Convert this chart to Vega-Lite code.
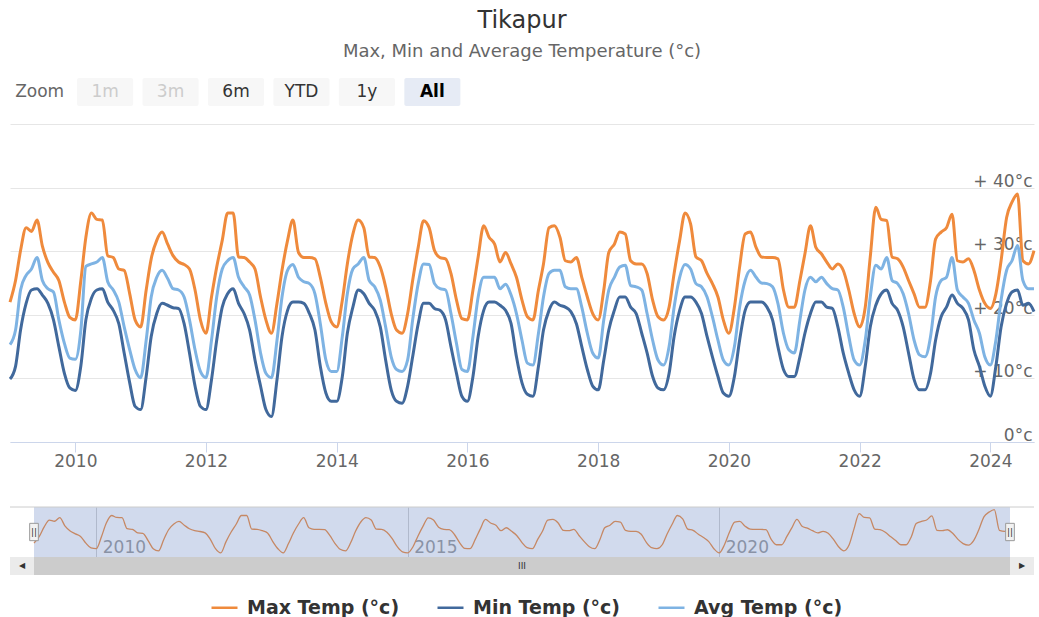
{
  "$schema": "https://vega.github.io/schema/vega-lite/v6.json",
  "background": "white",
  "padding": {"left": 4, "top": 9, "right": 5, "bottom": 0},
  "title": {
    "text": "Tikapur",
    "subtitle": "Max, Min and Average Temperature (°c)",
    "anchor": "middle",
    "font": "DejaVu Sans",
    "fontSize": 24,
    "fontWeight": "normal",
    "color": "#333333",
    "subtitleFont": "DejaVu Sans",
    "subtitleFontSize": 18,
    "subtitleColor": "#666666",
    "subtitlePadding": 10,
    "offset": 17
  },
  "config": {
    "view": {"stroke": null},
    "font": "DejaVu Sans",
    "axis": {"labelFont": "DejaVu Sans"},
    "legend": {"labelFont": "DejaVu Sans"}
  },
  "resolve": {"legend": {"color": "shared"}},
  "spacing": 18,
  "datasets": {
    "buttons": [
      {"label": "Zoom"}, {"label": "1m"}, {"label": "3m"}, {"label": "6m"},
      {"label": "YTD"}, {"label": "1y"}, {"label": "All"}
    ],
    "sel": [
      {"from": "2009-01-01", "to": "2024-09-01", "mid": "2016-11-01"}
    ],
    "temps": [
      {"d":"2009-01-01","mx":22.0,"mn":9.9,"av":15.3},
      {"d":"2009-02-01","mx":25.4,"mn":11.9,"av":17.6},
      {"d":"2009-03-01","mx":30.1,"mn":17.6,"av":23.9},
      {"d":"2009-04-01","mx":33.7,"mn":21.8,"av":26.2},
      {"d":"2009-05-01","mx":33.1,"mn":23.9,"av":27.2},
      {"d":"2009-06-01","mx":34.9,"mn":24.1,"av":29.0},
      {"d":"2009-07-01","mx":30.8,"mn":23.1,"av":25.4},
      {"d":"2009-08-01","mx":28.2,"mn":21.8,"av":24.1},
      {"d":"2009-09-01","mx":26.7,"mn":19.2,"av":23.6},
      {"d":"2009-10-01","mx":25.4,"mn":15.0,"av":19.2},
      {"d":"2009-11-01","mx":22.0,"mn":10.8,"av":15.5},
      {"d":"2009-12-01","mx":19.6,"mn":8.5,"av":13.2},
      {"d":"2010-01-01","mx":19.2,"mn":8.1,"av":13.0},
      {"d":"2010-02-01","mx":25.4,"mn":12.0,"av":17.6},
      {"d":"2010-03-01","mx":32.2,"mn":19.2,"av":27.6},
      {"d":"2010-04-01","mx":36.0,"mn":22.6,"av":28.0},
      {"d":"2010-05-01","mx":35.0,"mn":23.9,"av":28.3},
      {"d":"2010-06-01","mx":34.9,"mn":24.1,"av":29.0},
      {"d":"2010-07-01","mx":29.3,"mn":22.0,"av":25.2},
      {"d":"2010-08-01","mx":29.0,"mn":20.7,"av":23.9},
      {"d":"2010-09-01","mx":27.2,"mn":18.6,"av":22.0},
      {"d":"2010-10-01","mx":27.0,"mn":14.0,"av":18.1},
      {"d":"2010-11-01","mx":23.3,"mn":9.3,"av":14.5},
      {"d":"2010-12-01","mx":19.2,"mn":5.6,"av":11.4},
      {"d":"2011-01-01","mx":18.1,"mn":5.1,"av":10.1},
      {"d":"2011-02-01","mx":23.9,"mn":10.3,"av":16.0},
      {"d":"2011-03-01","mx":28.8,"mn":16.6,"av":22.8},
      {"d":"2011-04-01","mx":31.7,"mn":20.2,"av":25.9},
      {"d":"2011-05-01","mx":33.0,"mn":21.8,"av":27.0},
      {"d":"2011-06-01","mx":31.1,"mn":21.5,"av":25.7},
      {"d":"2011-07-01","mx":29.3,"mn":21.1,"av":24.1},
      {"d":"2011-08-01","mx":28.3,"mn":21.0,"av":23.9},
      {"d":"2011-09-01","mx":27.9,"mn":18.6,"av":22.8},
      {"d":"2011-10-01","mx":27.2,"mn":14.0,"av":19.2},
      {"d":"2011-11-01","mx":23.9,"mn":8.8,"av":14.5},
      {"d":"2011-12-01","mx":19.2,"mn":5.6,"av":11.1},
      {"d":"2012-01-01","mx":17.1,"mn":5.1,"av":10.1},
      {"d":"2012-02-01","mx":22.8,"mn":9.8,"av":16.0},
      {"d":"2012-03-01","mx":27.5,"mn":16.0,"av":22.8},
      {"d":"2012-04-01","mx":31.7,"mn":21.2,"av":27.2},
      {"d":"2012-05-01","mx":36.0,"mn":23.3,"av":28.5},
      {"d":"2012-06-01","mx":36.0,"mn":24.1,"av":29.0},
      {"d":"2012-07-01","mx":29.1,"mn":21.8,"av":25.9},
      {"d":"2012-08-01","mx":29.0,"mn":20.2,"av":24.4},
      {"d":"2012-09-01","mx":28.3,"mn":17.6,"av":23.1},
      {"d":"2012-10-01","mx":27.2,"mn":12.9,"av":19.2},
      {"d":"2012-11-01","mx":22.8,"mn":8.8,"av":14.0},
      {"d":"2012-12-01","mx":19.2,"mn":5.1,"av":10.8},
      {"d":"2013-01-01","mx":17.1,"mn":4.0,"av":10.1},
      {"d":"2013-02-01","mx":21.8,"mn":9.8,"av":16.0},
      {"d":"2013-03-01","mx":27.0,"mn":16.6,"av":22.8},
      {"d":"2013-04-01","mx":31.7,"mn":20.7,"av":27.0},
      {"d":"2013-05-01","mx":34.9,"mn":22.0,"av":27.9},
      {"d":"2013-06-01","mx":29.8,"mn":22.0,"av":25.9},
      {"d":"2013-07-01","mx":29.0,"mn":21.8,"av":25.2},
      {"d":"2013-08-01","mx":29.0,"mn":20.2,"av":24.9},
      {"d":"2013-09-01","mx":28.8,"mn":17.6,"av":23.3},
      {"d":"2013-10-01","mx":25.9,"mn":11.9,"av":18.6},
      {"d":"2013-11-01","mx":21.8,"mn":7.7,"av":12.9},
      {"d":"2013-12-01","mx":18.9,"mn":6.4,"av":11.1},
      {"d":"2014-01-01","mx":18.1,"mn":6.4,"av":11.1},
      {"d":"2014-02-01","mx":22.3,"mn":10.3,"av":16.6},
      {"d":"2014-03-01","mx":28.0,"mn":17.1,"av":23.3},
      {"d":"2014-04-01","mx":32.7,"mn":21.2,"av":27.2},
      {"d":"2014-05-01","mx":34.9,"mn":23.9,"av":28.0},
      {"d":"2014-06-01","mx":33.7,"mn":23.3,"av":29.0},
      {"d":"2014-07-01","mx":29.1,"mn":21.8,"av":25.4},
      {"d":"2014-08-01","mx":29.0,"mn":20.7,"av":24.4},
      {"d":"2014-09-01","mx":27.5,"mn":18.1,"av":22.3},
      {"d":"2014-10-01","mx":24.4,"mn":12.9,"av":18.1},
      {"d":"2014-11-01","mx":20.2,"mn":8.2,"av":13.4},
      {"d":"2014-12-01","mx":17.6,"mn":6.4,"av":11.4},
      {"d":"2015-01-01","mx":17.1,"mn":6.1,"av":11.1},
      {"d":"2015-02-01","mx":20.2,"mn":8.8,"av":12.9},
      {"d":"2015-03-01","mx":25.4,"mn":13.4,"av":19.2},
      {"d":"2015-04-01","mx":30.6,"mn":18.6,"av":24.9},
      {"d":"2015-05-01","mx":34.8,"mn":21.8,"av":28.0},
      {"d":"2015-06-01","mx":33.7,"mn":21.8,"av":27.9},
      {"d":"2015-07-01","mx":30.1,"mn":21.0,"av":24.9},
      {"d":"2015-08-01","mx":29.0,"mn":20.7,"av":24.1},
      {"d":"2015-09-01","mx":28.8,"mn":19.2,"av":23.9},
      {"d":"2015-10-01","mx":26.5,"mn":15.0,"av":20.2},
      {"d":"2015-11-01","mx":22.3,"mn":10.8,"av":15.5},
      {"d":"2015-12-01","mx":19.4,"mn":7.2,"av":11.4},
      {"d":"2016-01-01","mx":19.2,"mn":6.4,"av":11.1},
      {"d":"2016-02-01","mx":23.9,"mn":10.3,"av":16.6},
      {"d":"2016-03-01","mx":29.1,"mn":16.6,"av":22.8},
      {"d":"2016-04-01","mx":34.0,"mn":20.7,"av":25.9},
      {"d":"2016-05-01","mx":32.2,"mn":22.0,"av":25.9},
      {"d":"2016-06-01","mx":31.1,"mn":22.0,"av":25.9},
      {"d":"2016-07-01","mx":28.3,"mn":21.5,"av":24.1},
      {"d":"2016-08-01","mx":29.8,"mn":20.7,"av":24.8},
      {"d":"2016-09-01","mx":28.0,"mn":18.6,"av":23.1},
      {"d":"2016-10-01","mx":25.9,"mn":13.4,"av":20.2},
      {"d":"2016-11-01","mx":22.3,"mn":9.3,"av":16.0},
      {"d":"2016-12-01","mx":19.7,"mn":7.5,"av":12.4},
      {"d":"2017-01-01","mx":19.2,"mn":7.2,"av":12.1},
      {"d":"2017-02-01","mx":23.9,"mn":11.9,"av":17.1},
      {"d":"2017-03-01","mx":28.0,"mn":17.6,"av":22.8},
      {"d":"2017-04-01","mx":33.7,"mn":20.7,"av":26.5},
      {"d":"2017-05-01","mx":34.0,"mn":22.0,"av":27.0},
      {"d":"2017-06-01","mx":32.2,"mn":21.5,"av":27.0},
      {"d":"2017-07-01","mx":28.5,"mn":21.2,"av":24.4},
      {"d":"2017-08-01","mx":28.3,"mn":20.5,"av":24.1},
      {"d":"2017-09-01","mx":29.0,"mn":18.6,"av":24.1},
      {"d":"2017-10-01","mx":25.9,"mn":15.0,"av":21.2},
      {"d":"2017-11-01","mx":22.8,"mn":11.4,"av":17.1},
      {"d":"2017-12-01","mx":20.2,"mn":8.8,"av":14.0},
      {"d":"2018-01-01","mx":19.2,"mn":8.2,"av":13.2},
      {"d":"2018-02-01","mx":23.9,"mn":12.9,"av":19.2},
      {"d":"2018-03-01","mx":29.8,"mn":17.6,"av":23.9},
      {"d":"2018-04-01","mx":31.1,"mn":20.7,"av":25.9},
      {"d":"2018-05-01","mx":33.0,"mn":22.8,"av":27.5},
      {"d":"2018-06-01","mx":32.7,"mn":22.8,"av":27.8},
      {"d":"2018-07-01","mx":28.5,"mn":21.2,"av":24.6},
      {"d":"2018-08-01","mx":28.0,"mn":20.2,"av":24.4},
      {"d":"2018-09-01","mx":28.0,"mn":17.1,"av":23.9},
      {"d":"2018-10-01","mx":26.5,"mn":14.0,"av":20.2},
      {"d":"2018-11-01","mx":22.3,"mn":10.3,"av":16.0},
      {"d":"2018-12-01","mx":19.7,"mn":8.5,"av":12.9},
      {"d":"2019-01-01","mx":19.2,"mn":8.2,"av":12.1},
      {"d":"2019-02-01","mx":21.2,"mn":10.8,"av":15.0},
      {"d":"2019-03-01","mx":26.5,"mn":16.6,"av":21.2},
      {"d":"2019-04-01","mx":31.7,"mn":20.7,"av":25.9},
      {"d":"2019-05-01","mx":36.0,"mn":22.8,"av":27.9},
      {"d":"2019-06-01","mx":34.3,"mn":22.8,"av":27.2},
      {"d":"2019-07-01","mx":29.1,"mn":22.0,"av":24.9},
      {"d":"2019-08-01","mx":28.5,"mn":20.2,"av":24.4},
      {"d":"2019-09-01","mx":26.5,"mn":16.6,"av":22.8},
      {"d":"2019-10-01","mx":24.9,"mn":13.4,"av":19.7},
      {"d":"2019-11-01","mx":22.8,"mn":10.3,"av":16.0},
      {"d":"2019-12-01","mx":19.2,"mn":7.7,"av":12.9},
      {"d":"2020-01-01","mx":17.1,"mn":7.2,"av":12.1},
      {"d":"2020-02-01","mx":21.2,"mn":10.3,"av":15.0},
      {"d":"2020-03-01","mx":27.5,"mn":16.0,"av":21.2},
      {"d":"2020-04-01","mx":32.7,"mn":20.7,"av":25.4},
      {"d":"2020-05-01","mx":33.0,"mn":22.0,"av":27.0},
      {"d":"2020-06-01","mx":30.6,"mn":22.0,"av":25.9},
      {"d":"2020-07-01","mx":29.1,"mn":22.0,"av":25.0},
      {"d":"2020-08-01","mx":29.0,"mn":21.2,"av":24.9},
      {"d":"2020-09-01","mx":29.0,"mn":19.2,"av":24.4},
      {"d":"2020-10-01","mx":28.8,"mn":15.0,"av":21.8},
      {"d":"2020-11-01","mx":23.9,"mn":11.4,"av":17.1},
      {"d":"2020-12-01","mx":21.2,"mn":10.3,"av":14.5},
      {"d":"2021-01-01","mx":21.2,"mn":10.3,"av":14.0},
      {"d":"2021-02-01","mx":25.4,"mn":13.4,"av":19.2},
      {"d":"2021-03-01","mx":29.6,"mn":17.1,"av":23.9},
      {"d":"2021-04-01","mx":34.0,"mn":20.2,"av":25.9},
      {"d":"2021-05-01","mx":30.6,"mn":22.0,"av":25.2},
      {"d":"2021-06-01","mx":29.6,"mn":22.0,"av":25.9},
      {"d":"2021-07-01","mx":28.3,"mn":21.2,"av":24.9},
      {"d":"2021-08-01","mx":27.2,"mn":21.0,"av":24.1},
      {"d":"2021-09-01","mx":28.0,"mn":18.1,"av":23.9},
      {"d":"2021-10-01","mx":27.0,"mn":14.0,"av":21.2},
      {"d":"2021-11-01","mx":23.9,"mn":10.8,"av":16.6},
      {"d":"2021-12-01","mx":20.2,"mn":8.2,"av":12.9},
      {"d":"2022-01-01","mx":18.1,"mn":7.2,"av":12.1},
      {"d":"2022-02-01","mx":21.2,"mn":11.9,"av":16.0},
      {"d":"2022-03-01","mx":29.1,"mn":18.1,"av":22.8},
      {"d":"2022-04-01","mx":36.9,"mn":21.5,"av":27.8},
      {"d":"2022-05-01","mx":35.0,"mn":23.3,"av":27.2},
      {"d":"2022-06-01","mx":34.8,"mn":23.9,"av":29.0},
      {"d":"2022-07-01","mx":29.1,"mn":21.8,"av":25.4},
      {"d":"2022-08-01","mx":28.8,"mn":20.7,"av":24.9},
      {"d":"2022-09-01","mx":27.5,"mn":18.1,"av":23.3},
      {"d":"2022-10-01","mx":25.4,"mn":14.0,"av":20.2},
      {"d":"2022-11-01","mx":23.3,"mn":9.8,"av":16.0},
      {"d":"2022-12-01","mx":21.2,"mn":8.2,"av":13.7},
      {"d":"2023-01-01","mx":21.2,"mn":8.2,"av":13.4},
      {"d":"2023-02-01","mx":25.4,"mn":10.8,"av":16.6},
      {"d":"2023-03-01","mx":31.9,"mn":16.0,"av":22.8},
      {"d":"2023-04-01","mx":33.0,"mn":19.7,"av":25.4},
      {"d":"2023-05-01","mx":33.7,"mn":21.2,"av":25.9},
      {"d":"2023-06-01","mx":35.8,"mn":23.1,"av":29.0},
      {"d":"2023-07-01","mx":28.5,"mn":21.8,"av":23.9},
      {"d":"2023-08-01","mx":28.3,"mn":21.0,"av":22.8},
      {"d":"2023-09-01","mx":28.8,"mn":19.2,"av":21.8},
      {"d":"2023-10-01","mx":27.0,"mn":14.5,"av":19.2},
      {"d":"2023-11-01","mx":23.9,"mn":11.9,"av":17.1},
      {"d":"2023-12-01","mx":21.8,"mn":8.8,"av":13.4},
      {"d":"2024-01-01","mx":21.0,"mn":7.2,"av":12.1},
      {"d":"2024-02-01","mx":23.3,"mn":11.9,"av":16.0},
      {"d":"2024-03-01","mx":28.5,"mn":18.1,"av":22.3},
      {"d":"2024-04-01","mx":35.3,"mn":21.8,"av":27.0},
      {"d":"2024-05-01","mx":37.7,"mn":23.6,"av":28.5},
      {"d":"2024-06-01","mx":39.0,"mn":23.9,"av":30.9},
      {"d":"2024-07-01","mx":28.5,"mn":21.5,"av":25.4},
      {"d":"2024-08-01","mx":28.0,"mn":21.8,"av":24.1},
      {"d":"2024-09-01","mx":30.1,"mn":20.5,"av":24.1}
    ]
  },
  "vconcat": [
    {
      "width": 452,
      "height": 28,
      "data": {"name": "buttons"},
      "encoding": {
        "x": {"field": "label", "type": "nominal", "sort": null, "axis": null,
              "scale": {"paddingInner": 0.144, "paddingOuter": 0.025}}
      },
      "layer": [
        {
          "mark": {"type": "rect", "cornerRadius": 2},
          "encoding": {
            "fill": {"condition": {"test": "datum.label === 'All'", "value": "#e6ebf5"}, "value": "#f7f7f7"},
            "opacity": {"condition": {"test": "datum.label === 'Zoom'", "value": 0}, "value": 1}
          }
        },
        {
          "transform": [{"filter": "datum.label !== 'All'"}],
          "mark": {"type": "text", "fontSize": 17, "font": "DejaVu Sans"},
          "encoding": {
            "text": {"field": "label"},
            "color": {"condition": [
              {"test": "datum.label === 'Zoom'", "value": "#666666"},
              {"test": "datum.label === '1m' || datum.label === '3m'", "value": "#cccccc"}
            ], "value": "#333333"}
          }
        },
        {
          "transform": [{"filter": "datum.label === 'All'"}],
          "mark": {"type": "text", "fontSize": 17, "fontWeight": "bold", "font": "DejaVu Sans", "color": "#000000"},
          "encoding": {"text": {"field": "label"}}
        }
      ]
    },
    {
      "spacing": 37,
      "resolve": {"legend": {"color": "shared"}},
      "vconcat": [
        {
          "width": 1024,
          "height": 318,
          "data": {"name": "temps"},
          "transform": [{"fold": ["mx", "mn", "av"], "as": ["series", "temp"]}],
          "mark": {"type": "line", "interpolate": "monotone", "strokeWidth": 3},
          "encoding": {
            "x": {"field": "d", "type": "temporal", "scale": {"nice": false},
                  "axis": {"title": null, "format": "%Y", "tickCount": {"interval": "year", "step": 2},
                           "grid": false, "tickSize": 10, "tickColor": "#ccd6eb", "domainColor": "#ccd6eb",
                           "labelFontSize": 17, "labelColor": "#666666", "labelPadding": 1}},
            "y": {"field": "temp", "type": "quantitative", "scale": {"domain": [0, 50], "nice": false},
                  "axis": {"title": null, "orient": "right", "values": [0, 10, 20, 30, 40, 50],
                           "grid": true, "gridColor": "#e6e6e6", "domain": false, "ticks": false,
                           "labelAlign": "right", "labelPadding": -2, "labelBaseline": "alphabetic", "labelOffset": -1.5,
                           "labelFontSize": 17, "labelColor": "#666666",
                           "labelExpr": "datum.value >= 50 ? '' : (datum.value > 0 ? '+ ' + datum.value + '°c' : datum.value + '°c')"}},
            "color": {"field": "series", "type": "nominal",
                      "scale": {"domain": ["mx", "mn", "av"], "range": ["#ef8a3c", "#41699c", "#7eb3e3"]},
                      "legend": {"title": null, "orient": "none", "legendX": 200, "legendY": 515, "direction": "horizontal",
                                 "padding": 0,
                                 "symbolType": "stroke", "symbolSize": 676, "symbolStrokeWidth": 2.5,
                                 "labelFontSize": 19, "labelFontWeight": "bold", "labelColor": "#333333",
                                 "labelOffset": 8, "columnPadding": 32,
                                 "labelExpr": "datum.value === 'mx' ? 'Max Temp (°c)' : (datum.value === 'mn' ? 'Min Temp (°c)' : 'Avg Temp (°c)')"}}
          }
        },
        {
          "spacing": 0,
          "vconcat": [
            {
              "width": 1024,
              "height": 50,
              "layer": [
                {
                  "data": {"name": "temps"},
                  "mark": {"type": "line", "interpolate": "monotone", "strokeWidth": 1.3, "color": "#ef8a3c"},
                  "encoding": {
                    "x": {"field": "d", "type": "temporal", "scale": {"nice": false, "range": [24, 1000]},
                          "axis": {"title": null, "format": "%Y", "tickCount": {"interval": "year", "step": 5},
                                   "grid": true, "gridColor": "#d0d0d0", "domain": false, "ticks": false,
                                   "labelAlign": "left", "labelBaseline": "middle", "labelPadding": -10, "labelOffset": 6,
                                   "labelFontSize": 17, "labelColor": "#999999", "labelFlush": false}},
                    "y": {"field": "mx", "type": "quantitative", "scale": {"domain": [15, 40.3], "nice": false, "zero": false}, "axis": null}
                  }
                },
                {
                  "data": {"name": "sel"},
                  "mark": {"type": "rect", "color": "#6685c2", "opacity": 0.3},
                  "encoding": {
                    "x": {"field": "from", "type": "temporal"},
                    "x2": {"field": "to"}
                  }
                },
                {
                  "data": {"name": "sel"},
                  "mark": {"type": "rule", "color": "#cccccc", "strokeWidth": 1},
                  "encoding": {"y": {"datum": 40.3}}
                },
                {
                  "data": {"name": "sel"},
                  "transform": [{"fold": ["from", "to"], "as": ["edge", "at"]}],
                  "mark": {"type": "point", "shape": "M-0.5,-1H0.5V1H-0.5Z", "size": 300, "filled": true, "fill": "#f2f2f2", "stroke": "#999999", "strokeWidth": 1, "opacity": 1},
                  "encoding": {
                    "x": {"field": "at", "type": "temporal"},
                    "y": {"datum": 27.65}
                  }
                },
                {
                  "data": {"name": "sel"},
                  "transform": [{"fold": ["from", "to"], "as": ["edge", "at"]}],
                  "mark": {"type": "text", "text": "||", "fontSize": 9, "color": "#333333"},
                  "encoding": {
                    "x": {"field": "at", "type": "temporal"},
                    "y": {"datum": 27.65}
                  }
                }
              ]
            },
            {
              "width": 1024,
              "height": 18,
              "view": {"fill": "#ebebeb", "stroke": null},
              "data": {"name": "sel"},
              "layer": [
                {
                  "mark": {"type": "rect", "color": "#cccccc"},
                  "encoding": {
                    "x": {"field": "from", "type": "temporal", "scale": {"nice": false, "range": [24, 1000]}, "axis": null},
                    "x2": {"field": "to"}
                  }
                },
                {
                  "mark": {"type": "text", "text": "◀", "fontSize": 8, "color": "#333333", "dx": -12},
                  "encoding": {"x": {"field": "from", "type": "temporal"}}
                },
                {
                  "mark": {"type": "text", "text": "▶", "fontSize": 8, "color": "#333333", "dx": 12},
                  "encoding": {"x": {"field": "to", "type": "temporal"}}
                },
                {
                  "mark": {"type": "text", "text": "III", "fontSize": 9, "color": "#333333"},
                  "encoding": {"x": {"field": "mid", "type": "temporal"}}
                }
              ]
            }
          ]
        }
      ]
    }
  ]
}
